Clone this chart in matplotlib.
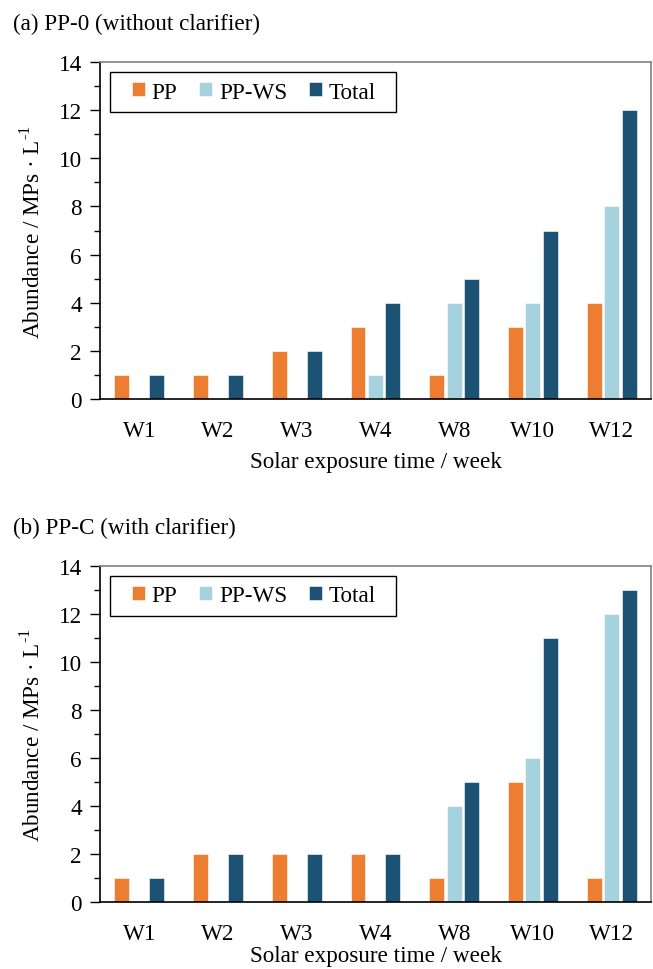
import numpy as np
import matplotlib
matplotlib.use('Agg')
from matplotlib import pyplot as plt
from matplotlib.patches import Rectangle
from matplotlib.ticker import MultipleLocator

plt.rcParams['font.family'] = ['Liberation Serif', 'DejaVu Serif']
plt.rcParams['mathtext.fontset'] = 'custom'
plt.rcParams['mathtext.rm'] = 'Liberation Serif'

ORANGE = '#ED7D31'
LIGHT = '#A5D2DC'
DARK = '#1C5274'
FS = 16.7

weeks = ['W1', 'W2', 'W3', 'W4', 'W8', 'W10', 'W12']
series = ['PP', 'PP-WS', 'Total']

# (a) PP-0, without clarifier
pp0_pp = [1, 1, 2, 3, 1, 3, 4]
pp0_ws = [0, 0, 0, 1, 4, 4, 8]
pp0_total = [1, 1, 2, 4, 5, 7, 12]

# (b) PP-C, with clarifier
ppc_pp = [1, 2, 2, 2, 1, 5, 1]
ppc_ws = [0, 0, 0, 0, 4, 6, 12]
ppc_total = [1, 2, 2, 2, 5, 11, 13]

titles = ['(a) PP-0 (without clarifier)', '(b) PP-C (with clarifier)']

fig = plt.figure(figsize=(6.53, 9.70), dpi=100)
###############################################################################
def draw_panel(ax, pp, ws, total, title, xpad=7):
    x = np.arange(len(weeks))
    off = 0.222
    w = 0.19
    for k, (vals, col) in enumerate(zip([pp, ws, total], [ORANGE, LIGHT, DARK])):
        ax.bar(x + (k - 1) * off, vals, width=w, color=col, edgecolor='white',
               linewidth=0.4, label=series[k], zorder=2)
    ax.set_xlim(-0.5, 6.5)
    ax.set_ylim(0, 14)
    ax.yaxis.set_major_locator(MultipleLocator(2))
    ax.yaxis.set_minor_locator(MultipleLocator(1))
    ax.tick_params(axis='y', which='major', direction='out', length=7,
                   width=1, labelsize=FS, pad=6)
    ax.tick_params(axis='y', which='minor', direction='out', length=4, width=1)
    ax.set_xticks(x)
    ax.set_xticklabels(weeks)
    ax.tick_params(axis='x', length=0, labelsize=FS, pad=15)
    for s in ['top', 'right']:
        ax.spines[s].set_color('#808080')
        ax.spines[s].set_linewidth(1.2)
    for s in ['left', 'bottom']:
        ax.spines[s].set_color('black')
        ax.spines[s].set_linewidth(1.2)
    ax.set_xlabel('Solar exposure time / week', fontsize=FS, labelpad=xpad)
    ax.set_ylabel('Abundance / MPs \u00b7 L$^{\\text{-}1}$', fontsize=FS,
                  labelpad=10)
    # legend box drawn separately so the padding can be wider at the sides
    ax.add_patch(Rectangle((0.018, 0.852), 0.519, 0.118, transform=ax.transAxes,
                           facecolor='white', edgecolor='black', linewidth=1.0,
                           zorder=3))
    leg = ax.legend(loc='center left', bbox_to_anchor=(0.058, 0.911), ncol=3,
                    fontsize=FS, frameon=False, handlelength=0.55,
                    handleheight=0.55, handletextpad=0.3, columnspacing=0.95,
                    borderpad=0.0, borderaxespad=0.0)
    leg.set_zorder(4)
    ax.text(-0.158, 1.116, title, transform=ax.transAxes, fontsize=FS,
            ha='left', va='center')

###############################################################################
ax1 = fig.add_axes([0.1531, 0.5876, 0.8438, 0.3474])
draw_panel(ax1, pp0_pp, pp0_ws, pp0_total, titles[0])

ax2 = fig.add_axes([0.1531, 0.0691, 0.8438, 0.3464])
draw_panel(ax2, ppc_pp, ppc_ws, ppc_total, titles[1], xpad=1)

fig.savefig('out.png', dpi=100)
